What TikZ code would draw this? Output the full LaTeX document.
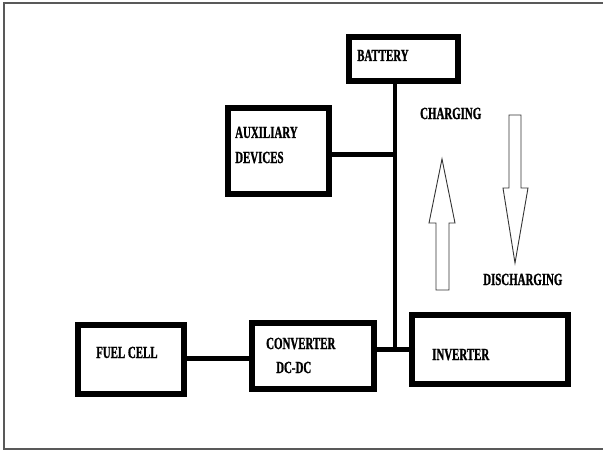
\documentclass[tikz,border=0pt]{standalone}
\usepackage{fontspec}
\newfontfamily\lblfont{Liberation Serif}[UprightFont={* Bold},FakeStretch=0.64,FakeBold=1.2]
\begin{document}
\begin{tikzpicture}[x=1pt,y=-1pt,
  box/.style={draw=black,line width=5.5pt,rectangle,inner sep=0pt,outer sep=0pt},
  wire/.style={line width=5pt,line cap=butt},
  lbl/.style={anchor=base west,inner sep=0pt,font=\lblfont\fontsize{17}{20}\selectfont},
  flow/.style={draw=black!80,line width=0.9pt,fill=white,line join=miter}]
\useasboundingbox (0,0) rectangle (603,452);
\draw[draw=black!65,line width=2pt] (4,3) rectangle (606,449);
% boxes (stroke centres)
\node[box,minimum width=109pt,minimum height=44pt] (bat) at (403.5,59) {};
\node[box,minimum width=101pt,minimum height=86pt] (aux) at (278.5,151) {};
\node[box,minimum width=106pt,minimum height=69pt] (fuel) at (131,359.5) {};
\node[box,minimum width=122pt,minimum height=66pt] (conv) at (313,356) {};
\node[box,minimum width=156pt,minimum height=69pt] (inv) at (490,349.5) {};
% labels
\node[lbl] (tbat) at (357,61) {BATTERY};
\node[lbl] (taux1) at (235,138) {AUXILIARY};
\node[lbl] (taux2) at (235,163) {DEVICES};
\node[lbl] (tfuel) at (96,358) {FUEL CELL};
\node[lbl] (tconv1) at (266,349) {CONVERTER};
\node[lbl] (tconv2) at (276,373) {DC-DC};
\node[lbl] (tinv) at (432,360) {INVERTER};
\node[lbl] (tch) at (420,119) {CHARGING};
\node[lbl] (tdis) at (483,285) {DISCHARGING};
% junctions
\coordinate (j1) at (395,154);
\coordinate (j2) at (395,349);
\coordinate (j3) at (0,358);
% connectors
\draw[wire,line width=4.5pt] (bat.south -| j1) -- (j2);
\draw[wire] (aux.east |- j1) -- ([xshift=2pt]j1);
\draw[wire] (conv.east |- j2) -- (inv.west |- j2);
\fill (inv.west |- j2) circle (3pt);
\draw[wire] (fuel.east |- j3) -- (conv.west |- j3);
\fill (conv.west |- j3) circle (2.8pt);
% flow arrows
\draw[flow] (436,290) -- (436,223) -- (429,223) -- (442,159) -- (455,223) -- (449,223) -- (449,290) -- cycle;
\draw[flow] (509,115) -- (509,188) -- (503,188) -- (515,263) -- (528,188) -- (521,188) -- (521,115) -- cycle;
\end{tikzpicture}
\end{document}
